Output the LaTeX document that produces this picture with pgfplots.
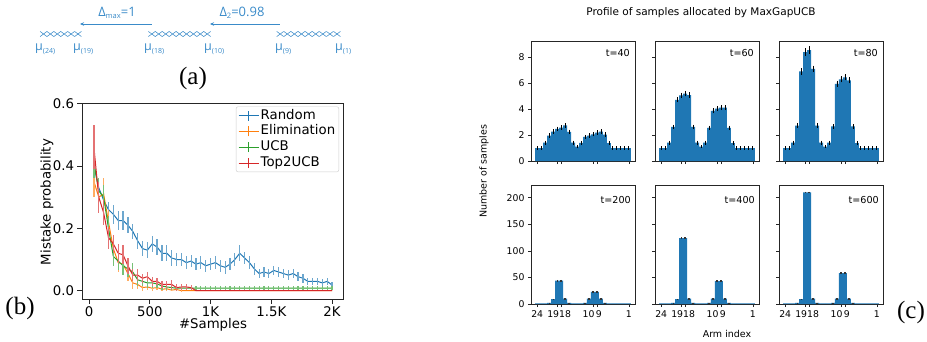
\documentclass[border=0pt]{standalone}
\usepackage{pgfplots}
\usepackage{pgfplotstable}
\pgfplotsset{compat=1.18}
\usepackage{fontspec}
\setmainfont{DejaVu Sans}
\newfontfamily\serif{Liberation Serif}
\newfontfamily\afont{Open Sans}
\usetikzlibrary{arrows.meta}
\definecolor{tblue}{HTML}{1F77B4}
\definecolor{torange}{HTML}{FF7F0E}
\definecolor{tgreen}{HTML}{2CA02C}
\definecolor{tred}{HTML}{D62728}
\definecolor{abl}{HTML}{3A8BC9}

% ---------- panel (b) data ----------
\pgfplotstableread{
x y e
40 0.40 0.03
80 0.33 0.03
120 0.29 0.03
160 0.26 0.025
200 0.245 0.03
240 0.225 0.03
280 0.225 0.03
320 0.21 0.025
360 0.19 0.025
400 0.16 0.025
440 0.135 0.025
480 0.13 0.025
520 0.15 0.025
560 0.14 0.025
600 0.12 0.025
640 0.12 0.025
680 0.105 0.025
720 0.10 0.02
760 0.10 0.02
800 0.09 0.02
840 0.095 0.02
880 0.085 0.02
920 0.09 0.02
960 0.08 0.02
1000 0.085 0.02
1040 0.09 0.02
1080 0.08 0.02
1120 0.075 0.02
1160 0.085 0.02
1200 0.10 0.02
1240 0.12 0.025
1280 0.105 0.02
1320 0.09 0.02
1360 0.07 0.02
1400 0.055 0.015
1440 0.06 0.015
1480 0.055 0.015
1520 0.065 0.015
1560 0.06 0.015
1600 0.055 0.015
1640 0.05 0.015
1680 0.055 0.015
1720 0.045 0.015
1760 0.04 0.015
1800 0.03 0.012
1840 0.03 0.012
1880 0.03 0.012
1920 0.025 0.012
1960 0.03 0.012
2000 0.018 0.01
}\tblrandom
\pgfplotstableread{
x y e
40 0.35 0.05
80 0.30 0.05
120 0.31 0.05
160 0.22 0.04
200 0.135 0.035
240 0.09 0.03
280 0.085 0.03
320 0.055 0.025
360 0.025 0.02
400 0.02 0.015
440 0.01 0.01
480 0.012 0.01
520 0.008 0.008
560 0.01 0.008
600 0.005 0.006
640 0.006 0.006
680 0.002 0.004
720 0.004 0.004
760 0.0 0.002
800 0 0
840 0 0
880 0 0
920 0 0
960 0 0
1000 0 0
1040 0 0
1080 0 0
1120 0 0
1160 0 0
1200 0 0
1240 0 0
1280 0 0
1320 0 0
1360 0 0
1400 0 0
1440 0 0
1480 0 0
1520 0 0
1560 0 0
1600 0 0
1640 0 0
1680 0 0
1720 0 0
1760 0 0
1800 0 0
1840 0 0
1880 0 0
1920 0 0
1960 0 0
2000 0 0
}\tblelim
\pgfplotstableread{
x y e
40 0.41 0.05
80 0.32 0.04
120 0.30 0.04
160 0.20 0.04
200 0.11 0.03
240 0.095 0.03
280 0.08 0.03
320 0.07 0.025
360 0.06 0.03
400 0.035 0.02
440 0.03 0.015
480 0.025 0.015
520 0.025 0.015
560 0.022 0.012
600 0.015 0.012
640 0.012 0.01
680 0.01 0.008
720 0.008 0.007
760 0.008 0.007
800 0.008 0.007
840 0.008 0.007
880 0.008 0.007
920 0.008 0.007
960 0.008 0.007
1000 0.008 0.007
1040 0.008 0.007
1080 0.008 0.007
1120 0.008 0.007
1160 0.008 0.007
1200 0.008 0.007
1240 0.008 0.007
1280 0.008 0.007
1320 0.008 0.007
1360 0.008 0.007
1400 0.008 0.007
1440 0.008 0.007
1480 0.008 0.007
1520 0.008 0.007
1560 0.008 0.007
1600 0.008 0.007
1640 0.008 0.007
1680 0.008 0.007
1720 0.008 0.007
1760 0.008 0.007
1800 0.008 0.007
1840 0.008 0.007
1880 0.008 0.007
1920 0.008 0.007
1960 0.008 0.007
2000 0.008 0.007
}\tblucb
\pgfplotstableread{
x y e
40 0.46 0.07
80 0.30 0.05
120 0.25 0.04
160 0.17 0.035
200 0.15 0.03
240 0.12 0.03
280 0.115 0.03
320 0.08 0.025
360 0.05 0.02
400 0.05 0.02
440 0.04 0.015
480 0.045 0.015
520 0.03 0.015
560 0.03 0.012
600 0.02 0.012
640 0.02 0.01
680 0.02 0.015
720 0.01 0.01
760 0.012 0.01
800 0.012 0.01
840 0.01 0.008
880 0 0
920 0 0
960 0 0
1000 0 0
1040 0 0
1080 0 0
1120 0 0
1160 0 0
1200 0 0
1240 0 0
1280 0 0
1320 0 0
1360 0 0
1400 0 0
1440 0 0
1480 0 0
1520 0 0
1560 0 0
1600 0 0
1640 0 0
1680 0 0
1720 0 0
1760 0 0
1800 0 0
1840 0 0
1880 0 0
1920 0 0
1960 0 0
2000 0 0
}\tbltop

% ---------- panel (c) data ----------
\pgfplotstableread{
x y e
0 1 0.03
1 1 0.03
2 1.42 0.06
3 1.96 0.07
4 2.27 0.08
5 2.48 0.08
6 2.58 0.08
7 2.74 0.08
8 2.25 0.08
9 1.42 0.06
10 1.1 0.04
11 1.39 0.06
12 1.86 0.07
13 1.96 0.07
14 2.06 0.07
15 2.19 0.08
16 2.27 0.08
17 2.04 0.07
18 1.37 0.06
19 1 0.03
20 1 0.03
21 1 0.03
22 1 0.03
23 1 0.03
}\tfourty
\pgfplotstableread{
x y e
0 1 0.03
1 1 0.03
2 1.42 0.06
3 2.63 0.08
4 4.72 0.1
5 5.05 0.12
6 5.2 0.12
7 5.08 0.12
8 2.63 0.08
9 1.42 0.06
10 1.1 0.04
11 1.42 0.06
12 2.55 0.08
13 3.87 0.1
14 4.03 0.1
15 4.12 0.1
16 4.12 0.1
17 2.55 0.08
18 1.37 0.06
19 1 0.03
20 1 0.03
21 1 0.03
22 1 0.03
23 1 0.03
}\tsixty
\pgfplotstableread{
x y e
0 1 0.03
1 1 0.03
2 1.42 0.06
3 2.72 0.08
4 6.9 0.15
5 8.4 0.2
6 8.55 0.2
7 7.1 0.15
8 2.72 0.08
9 1.42 0.06
10 1.1 0.04
11 1.42 0.06
12 2.66 0.08
13 5.95 0.15
14 6.3 0.15
15 6.45 0.15
16 6.22 0.15
17 2.66 0.08
18 1.38 0.06
19 1 0.03
20 1 0.03
21 1 0.03
22 1 0.03
23 1 0.03
}\teighty
\pgfplotstableread{
x y e
0 1 0
1 1 0
2 1 0
3 2 0.3
4 9 0.5
5 44 1.5
6 44 1.5
7 10 0.5
8 2 0.3
9 1 0
10 1 0
11 1 0
12 2 0.3
13 10 0.5
14 23 1.5
15 23 1.5
16 10 0.5
17 2 0.3
18 1 0
19 1 0
20 1 0
21 1 0
22 1 0
23 1 0
}\ttwohundred
\pgfplotstableread{
x y e
0 1 0
1 1 0
2 1 0
3 2 0.3
4 9 0.5
5 124 1.5
6 124 1.5
7 10 0.5
8 2 0.3
9 1 0
10 1 0
11 1 0
12 2 0.3
13 10 0.5
14 43 1.5
15 43 1.5
16 10 0.5
17 2 0.3
18 1 0
19 1 0
20 1 0
21 1 0
22 1 0
23 1 0
}\tfourhundred
\pgfplotstableread{
x y e
0 1 0
1 1 0
2 1 0
3 2 0.3
4 9 0.5
5 210 1.5
6 210 1.5
7 10 0.5
8 2 0.3
9 1 0
10 1 0
11 1 0
12 2 0.3
13 10 0.5
14 58 1.5
15 58 1.5
16 10 0.5
17 2 0.3
18 1 0
19 1 0
20 1 0
21 1 0
22 1 0
23 1 0
}\tsixhundred

\pgfplotsset{
  cax/.style={scale only axis, width=104pt, xmin=-1.55, xmax=24.55, ymin=0,
    tick align=outside, tick pos=left, major tick length=3pt,
    xtick={0,5,6,14,15,23},
    axis line style={black!85, line width=0.7pt},
    tick style={black!85, line width=0.6pt},
    tick label style={font=\fontsize{9.3}{11}\selectfont},
    /pgf/number format/assume math mode=true,
    ybar, bar width=1, clip=false},
  toprow/.style={cax, height=120pt, ymax=9.25, ytick={0,2,4,6,8}, xticklabels={}},
  botrow/.style={cax, height=119pt, ymax=224, ytick={0,50,100,150,200},
    xticklabels={24,{\makebox[0pt][r]{19\hspace{-2pt}}},{\makebox[0pt][l]{\hspace{-2pt}18}},{\makebox[0pt][r]{10\hspace{-1.5pt}}},{\makebox[0pt][l]{\hspace{-1pt}9}},1}},
  cbar/.style={fill=tblue, draw=none,
    error bars/.cd, y dir=both, y explicit,
    error bar style={draw=black, line width=0.8pt},
    error mark options={draw=black, mark size=1.2pt, line width=0.8pt}},
  cbarbot/.style={fill=tblue, draw=none,
    error bars/.cd, y dir=both, y explicit, error mark=none,
    error bar style={draw=black!80, line width=1.2pt}},
}
\tikzset{
  tlab/.style={anchor=east, font=\fontsize{9.6}{11}\selectfont, inner sep=0pt},
  mulab/.style={abl, anchor=base west, inner sep=0pt, font=\afont\fontsize{12.5}{14}\selectfont},
}
\newcommand{\musub}[1]{μ\raisebox{-3pt}{\fontsize{7}{8}\selectfont(#1)}}

\begin{document}
\begin{tikzpicture}[x=1pt,y=1pt]
\useasboundingbox (0,0) rectangle (927,-341);

% ================= panel (a) =================
\begin{axis}[at={(0pt,-90pt)}, anchor=south west, scale only axis,
  width=360pt, height=90pt, xmin=0, xmax=360, ymin=-90, ymax=0,
  hide axis, clip=false]
\addplot[only marks, mark=x, mark size=3.6pt, abl, mark options={line width=0.55pt, xscale=1.35}] coordinates {
(43.5,-34) (50.4,-34) (57.3,-34) (64.2,-34) (71.1,-34) (78.0,-34)
(151.8,-34) (158.7,-34) (165.7,-34) (172.6,-34) (179.5,-34) (186.5,-34) (193.4,-34) (200.3,-34) (207.2,-34)
(280.2,-34) (287.3,-34) (294.4,-34) (301.5,-34) (308.6,-34) (315.7,-34) (322.8,-34) (329.9,-34) (337.0,-34)};
\addplot[abl, line width=0.7pt, arrows={Stealth[length=4pt,width=3.5pt]-}] coordinates {(80,-24) (152,-24)};
\addplot[abl, line width=0.7pt, arrows={Stealth[length=4pt,width=3.5pt]-}] coordinates {(210,-24) (280,-24)};
\node[abl, font=\afont\fontsize{13}{15}\selectfont, inner sep=0pt] at (axis cs:117,-13) {Δ\raisebox{-2.5pt}{\fontsize{7.5}{8}\selectfont max}=1};
\node[abl, font=\afont\fontsize{13}{15}\selectfont, inner sep=0pt] at (axis cs:242,-13) {Δ\raisebox{-2.5pt}{\fontsize{7.5}{8}\selectfont 2}=0.98};
\node[mulab] at (axis cs:35,-50) {\musub{24}};
\node[mulab] at (axis cs:73,-50) {\musub{19}};
\node[mulab] at (axis cs:144,-50) {\musub{18}};
\node[mulab] at (axis cs:204,-50) {\musub{10}};
\node[mulab] at (axis cs:275,-50) {\musub{9}};
\node[mulab] at (axis cs:335,-50) {\musub{1}};
\end{axis}
\node[font=\serif\fontsize{25}{28}\selectfont] at (193,-78) {(a)};

% ================= panel (b) =================
\begin{axis}[at={(82pt,-299pt)}, anchor=south west, scale only axis,
  width=261pt, height=195.5pt,
  xmin=-58, xmax=2090, ymin=-0.0266, ymax=0.6,
  xtick={0,500,1000,1500,2000}, xticklabels={0,500,1K,1.5K,2K},
  ytick={0,0.2,0.4,0.6},
  yticklabel style={/pgf/number format/.cd, fixed, fixed zerofill, precision=1},
  /pgf/number format/assume math mode=true,
  tick align=outside, tick pos=left, major tick length=4.5pt,
  axis line style={black!85, line width=0.8pt},
  tick style={black!85, line width=0.7pt},
  tick label style={font=\fontsize{13.3}{15}\selectfont},
  legend image code/.code={\draw[#1, line width=1pt] (0pt,0pt) -- (20pt,0pt); \draw[#1, line width=1pt] (10pt,-5pt) -- (10pt,5pt);},
  legend style={at={(1,1)}, anchor=north east, xshift=-4pt, yshift=-3pt,
    draw=black!20, rounded corners=2pt, fill=white, fill opacity=0.8, text opacity=1,
    font=\fontsize{13.3}{15}\selectfont, inner xsep=2pt, inner ysep=1pt,
    nodes={inner sep=1.6pt, text height=9.8pt, text depth=2.8pt}},
  legend cell align=left,
]
\addplot[tblue, line width=1pt, error bars/.cd, y dir=both, y explicit, error mark=none,
  error bar style={tblue!65, line width=1.2pt}] table[x=x,y=y,y error=e]{\tblrandom};
\addlegendentry{Random}
\addplot[torange, line width=1pt, error bars/.cd, y dir=both, y explicit, error mark=none,
  error bar style={torange!65, line width=1.2pt}] table[x=x,y=y,y error=e]{\tblelim};
\addlegendentry{Elimination}
\addplot[tgreen, line width=1pt, error bars/.cd, y dir=both, y explicit, error mark=none,
  error bar style={tgreen!65, line width=1.2pt}] table[x=x,y=y,y error=e]{\tblucb};
\addlegendentry{UCB}
\addplot[tred, line width=1pt, error bars/.cd, y dir=both, y explicit, error mark=none,
  error bar style={tred!65, line width=1.2pt}] table[x=x,y=y,y error=e]{\tbltop};
\addlegendentry{Top2UCB}
\end{axis}
\node[font=\fontsize{13.3}{15}\selectfont] at (213,-325) {\#Samples};
\node[font=\fontsize{13.3}{15}\selectfont, rotate=90] at (47,-202) {Mistake probability};
\node[font=\serif\fontsize{25}{28}\selectfont] at (20,-308) {(b)};

% ================= panel (c) =================
\node[font=\fontsize{10.5}{12}\selectfont] at (701,-13) {Profile of samples allocated by MaxGapUCB};
\node[font=\fontsize{9.5}{11}\selectfont, rotate=90] at (484,-171) {Number of samples};
\node[font=\fontsize{9.5}{11}\selectfont] at (727,-334) {Arm index};
\node[font=\serif\fontsize{25}{28}\selectfont] at (911,-312) {(c)};

\begin{axis}[toprow, at={(531pt,-161pt)}, anchor=south west]
\addplot[cbar] table[x=x,y=y,y error=e]{\tfourty};
\node[tlab] at (rel axis cs:1,1) [xshift=-5pt, yshift=-12pt] {t=40};
\end{axis}
\begin{axis}[toprow, at={(655pt,-161pt)}, anchor=south west, yticklabels={}]
\addplot[cbar] table[x=x,y=y,y error=e]{\tsixty};
\node[tlab] at (rel axis cs:1,1) [xshift=-5pt, yshift=-12pt] {t=60};
\end{axis}
\begin{axis}[toprow, at={(779pt,-161pt)}, anchor=south west, yticklabels={}]
\addplot[cbar] table[x=x,y=y,y error=e]{\teighty};
\node[tlab] at (rel axis cs:1,1) [xshift=-5pt, yshift=-12pt] {t=80};
\end{axis}

\begin{axis}[botrow, at={(531pt,-304pt)}, anchor=south west]
\addplot[cbarbot] table[x=x,y=y,y error=e]{\ttwohundred};
\node[tlab] at (rel axis cs:1,1) [xshift=-4pt, yshift=-14.5pt] {t=200};
\end{axis}
\begin{axis}[botrow, at={(655pt,-304pt)}, anchor=south west, yticklabels={}]
\addplot[cbarbot] table[x=x,y=y,y error=e]{\tfourhundred};
\node[tlab] at (rel axis cs:1,1) [xshift=-4pt, yshift=-14.5pt] {t=400};
\end{axis}
\begin{axis}[botrow, at={(779pt,-304pt)}, anchor=south west, yticklabels={}]
\addplot[cbarbot] table[x=x,y=y,y error=e]{\tsixhundred};
\node[tlab] at (rel axis cs:1,1) [xshift=-4pt, yshift=-14.5pt] {t=600};
\end{axis}
\end{tikzpicture}
\end{document}
